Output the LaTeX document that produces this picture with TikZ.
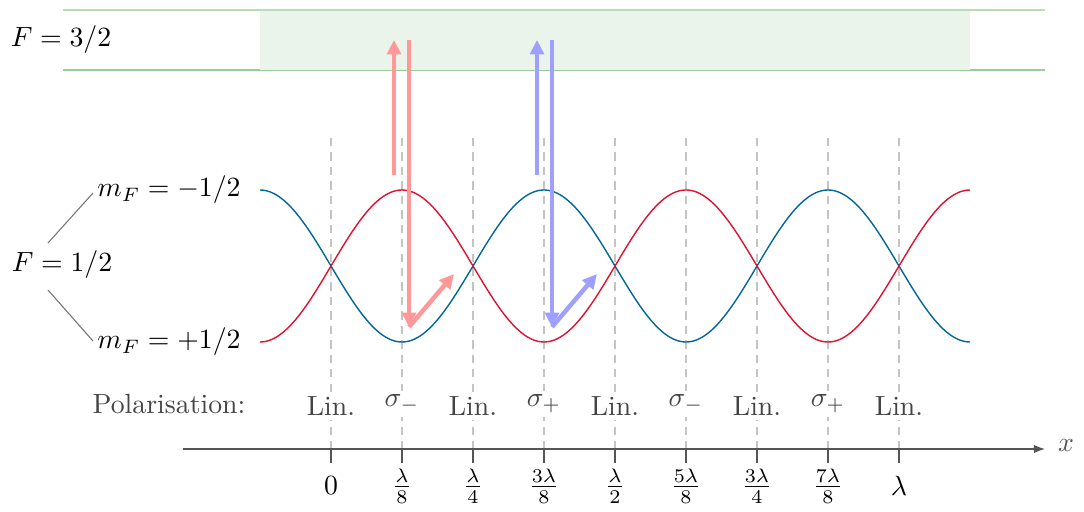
\documentclass[tikz,border=0pt]{standalone}
\usetikzlibrary{arrows.meta}
\definecolor{curvered}{HTML}{E0102F}
\definecolor{curveblue}{HTML}{006699}
\definecolor{lred}{HTML}{FF9999}
\definecolor{lblue}{HTML}{9F9FFF}
\definecolor{gline}{HTML}{99CC99}
\definecolor{gband}{HTML}{EAF4EA}
\definecolor{dgray}{HTML}{C4C4C4}
\definecolor{axgray}{HTML}{555555}
\definecolor{txgray}{HTML}{444444}
\begin{document}
\begin{tikzpicture}[x=0.36pt,y=-0.36pt,
  dashline/.style={dgray, line width=0.45pt, dash pattern=on 3pt off 2.2pt},
  pollabel/.style={txgray, fill=white, inner sep=1.5pt},
  ticklabel/.style={inner sep=0pt},
  beam/.style={line width=1.6pt, -{Triangle[length=5.2pt,width=5pt]}},
  splitline/.style={axgray!80, line width=0.4pt}]
\useasboundingbox (0,0) rectangle (1084,512);
% F=3/2 band
\draw[gline, line width=0.5pt] (63,70) -- (1045,70);
\fill[gband] (260,10) rectangle (970,70);
\draw[gline!70, line width=0.5pt] (63,10) -- (1045,10);
\node (F32) at (61,40) {$F=3/2$};
% dashed lines
\foreach \i/\xx in {0/331,1/402,2/473,3/544,4/615,5/686,6/757,7/828,8/899}{
  \coordinate (dt\i) at (\xx,138);
  \coordinate (db\i) at (\xx,449);
  \draw[dashline] (dt\i) -- (db\i);
}
% curves
\draw[curveblue, line width=0.5pt] plot[domain=260:970, samples=240] (\x,{266-76*cos(1.267606*(\x-260))});
\draw[curvered, line width=0.5pt] plot[domain=260:970, samples=240] (\x,{266+76*cos(1.267606*(\x-260))});
% levels labels
\node (F12) at (62,265) {$F=1/2$};
\node (mm) at (169,190) {$m_F=-1/2$};
\node (mp) at (169,342) {$m_F=+1/2$};
\coordinate (s1a) at (48,243); \coordinate (s1b) at (93,193);
\coordinate (s2a) at (48,290); \coordinate (s2b) at (93,341);
\draw[splitline] (s1a) -- (s1b);
\draw[splitline] (s2a) -- (s2b);
% red beams
\coordinate (r1a) at (394,175); \coordinate (r1b) at (394,40);
\coordinate (r2a) at (409,40); \coordinate (r2b) at (409,327);
\coordinate (r3b) at (454,274);
\draw[lred, beam] (r1a) -- (r1b);
\draw[lred, beam] (r2a) -- (r2b);
\draw[lred, beam] (r2b) -- (r3b);
% blue beams
\coordinate (b1a) at (537,175); \coordinate (b1b) at (537,40);
\coordinate (b2a) at (552,40); \coordinate (b2b) at (552,327);
\coordinate (b3b) at (597,274);
\draw[lblue, beam] (b1a) -- (b1b);
\draw[lblue, beam] (b2a) -- (b2b);
\draw[lblue, beam] (b2b) -- (b3b);
% polarisation labels
\node[txgray] (pol) at (169,404) {Polarisation:};
\node[pollabel] (p0) at (331,406) {Lin.};
\node[pollabel] (p1) at (402,404) {$\sigma_-$};
\node[pollabel] (p2) at (473,406) {Lin.};
\node[pollabel] (p3) at (544,404) {$\sigma_+$};
\node[pollabel] (p4) at (615,406) {Lin.};
\node[pollabel] (p5) at (686,404) {$\sigma_-$};
\node[pollabel] (p6) at (757,406) {Lin.};
\node[pollabel] (p7) at (828,404) {$\sigma_+$};
\node[pollabel] (p8) at (899,406) {Lin.};
% axis
\coordinate (ax0) at (183,449);
\coordinate (ax1) at (1045,449);
\draw[axgray, line width=0.45pt, -{Latex[length=4pt,width=3pt]}] (ax0) -- (ax1);
\node[axgray] (xl) at (1066,446) {$x$};
\foreach \i/\xx/\lab in {0/331/$0$,1/402/$\frac{\lambda}{8}$,2/473/$\frac{\lambda}{4}$,3/544/$\frac{3\lambda}{8}$,4/615/$\frac{\lambda}{2}$,5/686/$\frac{5\lambda}{8}$,6/757/$\frac{3\lambda}{4}$,7/828/$\frac{7\lambda}{8}$,8/899/$\lambda$}{
  \draw[axgray, line width=0.45pt] (db\i) -- ++(0,14) coordinate (tk\i);
  \node[ticklabel] (tl\i) at (\xx,486) {\lab};
}
\end{tikzpicture}
\end{document}
